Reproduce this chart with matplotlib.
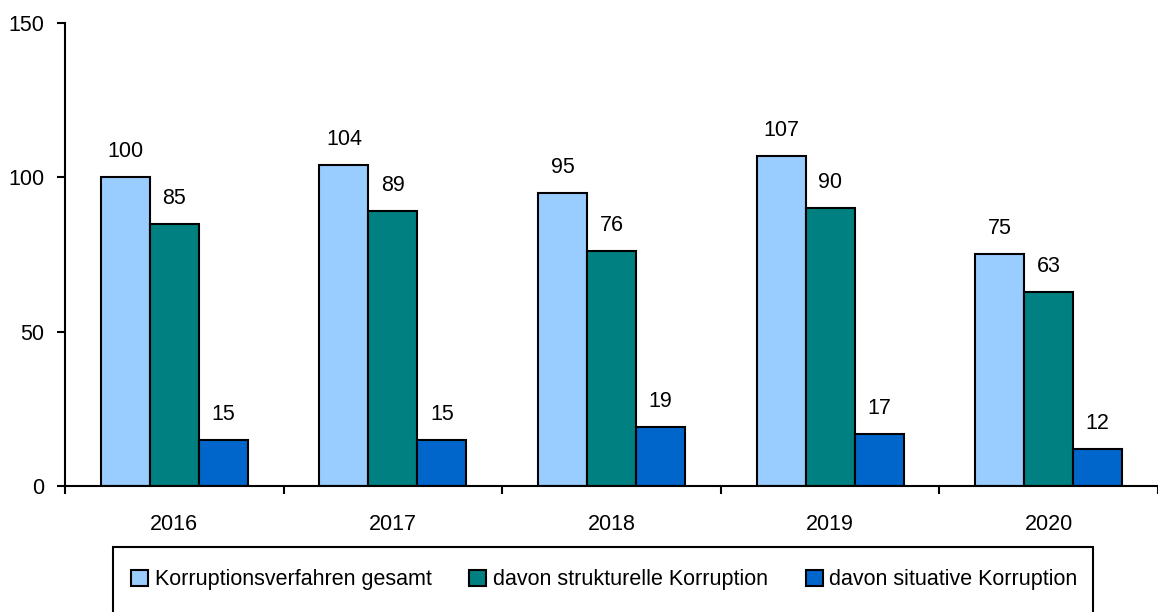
import numpy as np
import matplotlib
matplotlib.use("Agg")
import matplotlib.pyplot as plt
from matplotlib.patches import Rectangle

years = ["2016", "2017", "2018", "2019", "2020"]
gesamt = [100, 104, 95, 107, 75]
strukturell = [85, 89, 76, 90, 63]
situativ = [15, 15, 19, 17, 12]
series_names = ["Korruptionsverfahren gesamt",
                "davon strukturelle Korruption",
                "davon situative Korruption"]
colors = ["#99CCFF", "#008080", "#0066CC"]

plt.rcParams['font.family'] = ['Liberation Sans', 'DejaVu Sans']
plt.rcParams['font.size'] = 15.5

W, H = 1158, 612
fig = plt.figure(figsize=(W / 100, H / 100), dpi=100)
ax = fig.add_axes([65 / W, 1 - 486 / H, 1 - 65 / W, (486 - 23) / H])

x = np.arange(len(years))
w = 0.224
bars = []
for i, (vals, c, name) in enumerate(zip([gesamt, strukturell, situativ], colors, series_names)):
    b = ax.bar(x + (i - 1) * w, vals, w, color=c, edgecolor="black",
               linewidth=1.5, label=name, zorder=2)
    bars.append(b)
    for xi, v in zip(x + (i - 1) * w, vals):
        ax.annotate(str(v), (xi, v), xytext=(0, 14.4), textcoords="offset points",
                    ha="center", va="baseline")

ax.set_xlim(-0.5, len(years) - 0.5)
ax.set_ylim(0, 150)
ax.set_yticks([0, 50, 100, 150])
ax.set_xticks(x)
ax.set_xticklabels(years)
ax.set_xticks(np.arange(len(years) + 1) - 0.5, minor=True)
ax.tick_params(axis="x", which="major", length=0, pad=20)
ax.tick_params(axis="x", which="minor", length=6, width=1.5, direction="out")
ax.tick_params(axis="y", length=6, width=1.5, pad=9)

for s in ["top", "right"]:
    ax.spines[s].set_visible(False)
for s in ["left", "bottom"]:
    ax.spines[s].set_linewidth(1.5)

# legend box runs past the bottom edge, as in the original
fig.patches.append(Rectangle((113 / W, -0.05), (1093 - 113) / W, 0.05 + 1 - 547 / H,
                             transform=fig.transFigure, facecolor="white",
                             edgecolor="black", linewidth=1.5))
leg = fig.legend(handles=bars, loc="center left",
                 bbox_to_anchor=(131 / W, 1 - 580 / H),
                 ncol=3, frameon=False, borderpad=0, borderaxespad=0,
                 handlelength=0.8, handleheight=0.8, handletextpad=0.3,
                 columnspacing=1.75)

fig.savefig("out.png", dpi=100)
